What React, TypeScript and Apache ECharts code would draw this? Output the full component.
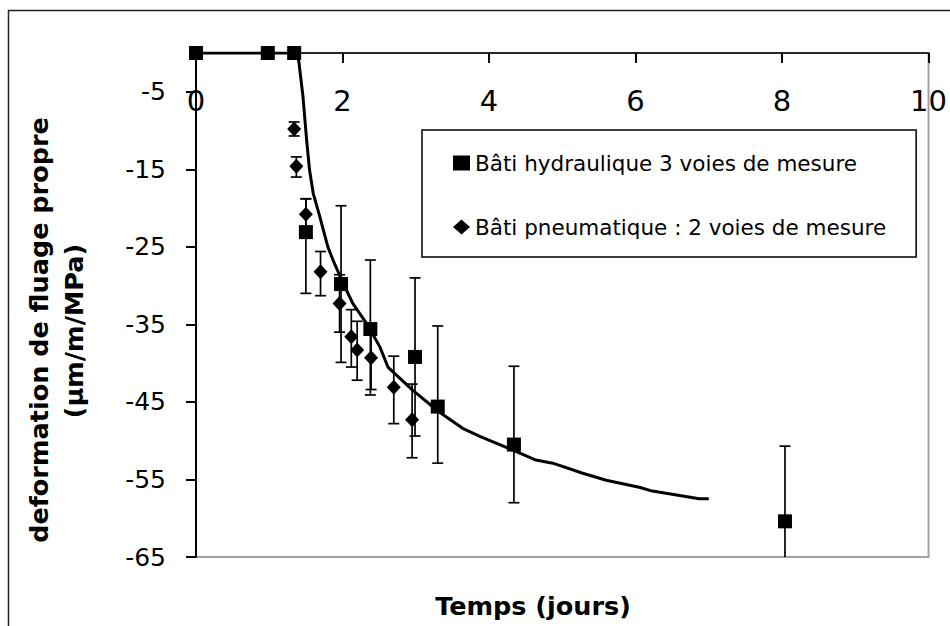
import React, { useEffect, useRef } from "react";
import * as echarts from "echarts";

// Bâti hydraulique 3 voies de mesure (squares)
const hydroX = [0, 0.98, 1.34, 1.5, 1.98, 2.38, 2.99, 3.3, 4.34, 8.04];
const hydroY = [0, 0, 0, -23.1, -29.8, -35.6, -39.2, -45.6, -50.5, -60.4];
const hydroLow = [0, 0, 0, -31.0, -39.9, -44.1, -49.4, -52.9, -58.0, -70.1];
const hydroHigh = [0, 0, 0, -18.8, -19.7, -26.7, -29.0, -35.2, -40.4, -50.7];

// Bâti pneumatique : 2 voies de mesure (diamonds)
const pneuX = [1.34, 1.37, 1.5, 1.7, 1.96, 2.12, 2.2, 2.39, 2.7, 2.95];
const pneuY = [-9.8, -14.6, -20.8, -28.2, -32.3, -36.6, -38.3, -39.3, -43.1, -47.3];
const pneuLow = [-10.7, -16.0, -22.8, -31.3, -36.0, -40.5, -42.2, -43.4, -47.8, -52.2];
const pneuHigh = [-8.9, -13.4, -18.8, -25.6, -28.6, -33.1, -34.6, -35.2, -39.1, -42.7];

// Model curve
const curveX = [0, 1.39, 1.46, 1.51, 1.55, 1.6, 1.69, 1.8, 1.87, 2.01, 2.14, 2.33, 2.51, 2.62, 2.96, 3.32, 3.64, 3.89, 4.32, 4.64, 4.87, 5.28, 5.6, 6.05, 6.23, 6.87, 7.0];
const curveY = [0, 0, -5.6, -11.2, -15.1, -18.1, -21.1, -25.0, -26.7, -29.7, -32.3, -34.9, -37.9, -40.5, -43.5, -46.3, -48.4, -49.5, -51.2, -52.5, -52.9, -54.2, -55.1, -56.0, -56.5, -57.5, -57.5];

const xTicks = { min: 0, max: 10, interval: 2 };
const yTicks = { min: -65, max: 0, interval: 10 };

const seriesNames = ["Bâti hydraulique 3 voies de mesure", "Bâti pneumatique : 2 voies de mesure"];
const xTitle = "Temps (jours)";
const yTitle1 = "deformation de fluage propre";
const yTitle2 = "(µm/m/MPa)";

const FONT = "DejaVu Sans";

function errRender(params: any, api: any) {
  const x = api.value(0);
  const lo = api.value(1);
  const hi = api.value(2);
  const pLo = api.coord([x, lo]);
  const pHi = api.coord([x, hi]);
  const hw = 5.5;
  const st = { stroke: "#000", lineWidth: 1.7 };
  return {
    type: "group",
    children: [
      { type: "line", shape: { x1: pLo[0], y1: pLo[1], x2: pHi[0], y2: pHi[1] }, style: st },
      { type: "line", shape: { x1: pLo[0] - hw, y1: pLo[1], x2: pLo[0] + hw, y2: pLo[1] }, style: st },
      { type: "line", shape: { x1: pHi[0] - hw, y1: pHi[1], x2: pHi[0] + hw, y2: pHi[1] }, style: st },
    ],
  };
}

export default function App() {
  const ref = useRef<HTMLDivElement>(null);
  useEffect(() => {
    if (!ref.current) return;
    const chart = echarts.init(ref.current, null, { renderer: "svg" });
    const hydroErr = hydroX.map((x, i) => [x, hydroLow[i], hydroHigh[i]]).filter((d) => d[1] !== d[2]);
    const pneuErr = pneuX.map((x, i) => [x, pneuLow[i], pneuHigh[i]]);
    chart.setOption({
      animation: false,
      backgroundColor: "#fff",
      grid: {
        left: 196,
        top: 53,
        right: 20,
        bottom: 69,
        show: true,
        borderColor: "#a0a0a0",
        borderWidth: 2,
        backgroundColor: "transparent",
      },
      xAxis: {
        type: "value",
        position: "top",
        min: xTicks.min,
        max: xTicks.max,
        interval: xTicks.interval,
        axisLine: { show: true, onZero: false, lineStyle: { color: "#000", width: 1.5 } },
        axisTick: { show: true, inside: true, length: 10, lineStyle: { color: "#000", width: 2 } },
        axisLabel: { inside: true, margin: 33, fontSize: 29, fontFamily: FONT, color: "#000" },
        splitLine: { show: false },
      },
      yAxis: {
        type: "value",
        min: yTicks.min,
        max: yTicks.max,
        interval: yTicks.interval,
        axisLine: { show: true, onZero: false, lineStyle: { color: "#000", width: 2 } },
        axisTick: { show: true, inside: false, length: 10, lineStyle: { color: "#000", width: 2 } },
        axisLabel: { margin: 30, fontSize: 25, fontFamily: FONT, color: "#000", showMaxLabel: false },
        splitLine: { show: false },
      },
      legend: {
        data: seriesNames,
        orient: "vertical",
        left: 422,
        top: 130,
        padding: [22, 30, 19, 31],
        itemGap: 42,
        itemWidth: 17,
        itemHeight: 15,
        borderColor: "#000",
        borderWidth: 1.5,
        backgroundColor: "#fff",
        selectedMode: false,
        itemStyle: { opacity: 1 },
        textStyle: { fontSize: 21.5, fontFamily: FONT, color: "#000" },
      },
      graphic: [
        {
          type: "rect",
          shape: { x: 8.5, y: 10.5, width: 1000, height: 1000 },
          style: { fill: "none", stroke: "#222", lineWidth: 1.5 },
          silent: true,
        },
        {
          type: "text",
          x: 533,
          y: 606,
          style: { text: xTitle, font: `bold 25.5px "${FONT}"`, fill: "#000", textAlign: "center", textVerticalAlign: "middle" },
        },
        {
          type: "text",
          x: 39,
          y: 330,
          rotation: Math.PI / 2,
          style: { text: yTitle1, font: `bold 25.5px "${FONT}"`, fill: "#000", textAlign: "center", textVerticalAlign: "middle" },
        },
        {
          type: "text",
          x: 74,
          y: 331,
          rotation: Math.PI / 2,
          style: { text: yTitle2, font: `bold 25.5px "${FONT}"`, fill: "#000", textAlign: "center", textVerticalAlign: "middle" },
        },
      ],
      series: [
        {
          type: "custom",
          name: "errHydro",
          renderItem: errRender,
          data: hydroErr,
          encode: { x: 0, y: [1, 2] },
          clip: true,
          silent: true,
          z: 2,
        },
        {
          type: "custom",
          name: "errPneu",
          renderItem: errRender,
          data: pneuErr,
          encode: { x: 0, y: [1, 2] },
          clip: true,
          silent: true,
          z: 2,
        },
        {
          type: "line",
          name: "modele",
          data: curveX.map((x, i) => [x, curveY[i]]),
          showSymbol: false,
          symbol: "none",
          lineStyle: { color: "#000", width: 3 },
          z: 3,
        },
        {
          type: "scatter",
          name: seriesNames[0],
          data: hydroX.map((x, i) => [x, hydroY[i]]),
          symbol: "rect",
          symbolSize: [14, 14],
          itemStyle: { color: "#000", opacity: 1 },
          z: 4,
        },
        {
          type: "scatter",
          name: seriesNames[1],
          data: pneuX.map((x, i) => [x, pneuY[i]]),
          symbol: "diamond",
          symbolSize: [14, 15],
          itemStyle: { color: "#000", opacity: 1 },
          z: 4,
        },
      ],
    });
    return () => chart.dispose();
  }, []);
  return <div ref={ref} style={{ position: "absolute", left: 0, top: 0, width: 950, height: 626 }} />;
}
